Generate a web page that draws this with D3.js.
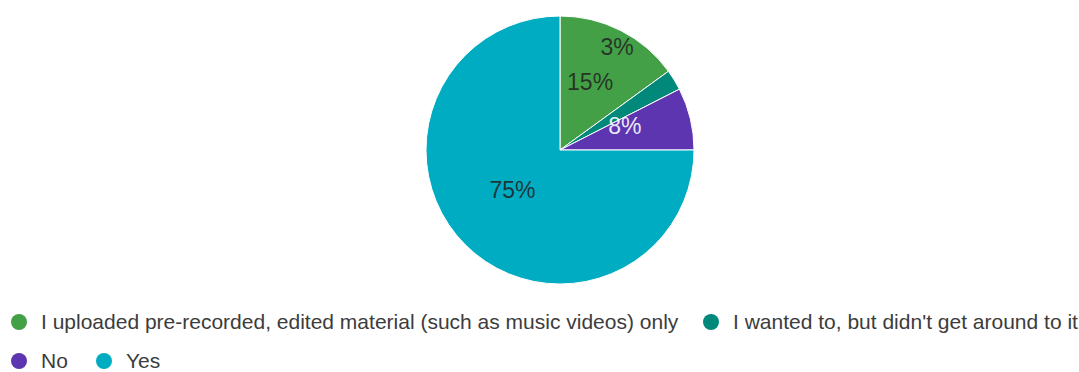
<!DOCTYPE html>
<html>
<head>
<meta charset="utf-8">
<script src="https://cdn.jsdelivr.net/npm/d3@7"></script>
<style>
  html, body { margin: 0; padding: 0; background: #fff; }
  svg { display: block; }
</style>
</head>
<body>
<svg id="chart" width="1079" height="372"></svg>
<script>
// Survey responses (counts) in slice order, clockwise from 12 o'clock
const categories = [
  "I uploaded pre-recorded, edited material (such as music videos) only",
  "I wanted to, but didn't get around to it",
  "No",
  "Yes"
];
const counts = [6, 1, 3, 30];
const colors = ["#43a047", "#00897b", "#5e35b1", "#00acc1"];
const percentLabels = ["15%", "3%", "8%", "75%"];

const width = 1079, height = 372;
const cx = 560, cy = 150, radius = 134;
const font = "'Liberation Sans', Arial, sans-serif";

const svg = d3.select("#chart");

const pie = d3.pie().sort(null).value(d => d)(counts);
const arc = d3.arc().innerRadius(0).outerRadius(radius);

const g = svg.append("g").attr("transform", `translate(${cx},${cy})`);

g.selectAll("path.slice")
  .data(pie)
  .join("path")
  .attr("class", "slice")
  .attr("d", arc)
  .attr("fill", (d, i) => colors[i])
  .attr("stroke", "#fff")
  .attr("stroke-width", 1);

// Label placement: angle (deg, clockwise from top) and distance from centre
const labelPlacement = [
  { a: 24, r: 74 },
  { a: 29, r: 118 },
  { a: 70, r: 69 },
  { a: 230, r: 62 }
];
const labelFill = ["#222", "#222", "#fff", "#222"];

g.selectAll("text.pct")
  .data(pie)
  .join("text")
  .attr("class", "pct")
  .attr("x", (d, i) => labelPlacement[i].r * Math.sin(labelPlacement[i].a * Math.PI / 180))
  .attr("y", (d, i) => -labelPlacement[i].r * Math.cos(labelPlacement[i].a * Math.PI / 180))
  .attr("dy", "0.35em")
  .attr("text-anchor", "middle")
  .attr("font-family", font)
  .attr("font-size", 23)
  .attr("fill", (d, i) => labelFill[i])
  .attr("fill-opacity", (d, i) => i === 2 ? 0.9 : 0.85)
  .text((d, i) => percentLabels[i]);

// Legend: two rows
const legendRows = [
  [{ i: 0, x: 19 }, { i: 1, x: 711 }],
  [{ i: 2, x: 19 }, { i: 3, x: 104 }]
];
const rowY = [322, 361];

legendRows.forEach((row, r) => {
  const lg = svg.append("g").attr("transform", `translate(0,${rowY[r]})`);
  row.forEach(item => {
    lg.append("circle")
      .attr("cx", item.x)
      .attr("cy", 0)
      .attr("r", 8)
      .attr("fill", colors[item.i]);
    lg.append("text")
      .attr("x", item.x + 22)
      .attr("y", 0)
      .attr("dy", "0.35em")
      .attr("font-family", font)
      .attr("font-size", 21)
      .attr("fill", "#3c3c3c")
      .text(categories[item.i]);
  });
});
</script>
</body>
</html>
